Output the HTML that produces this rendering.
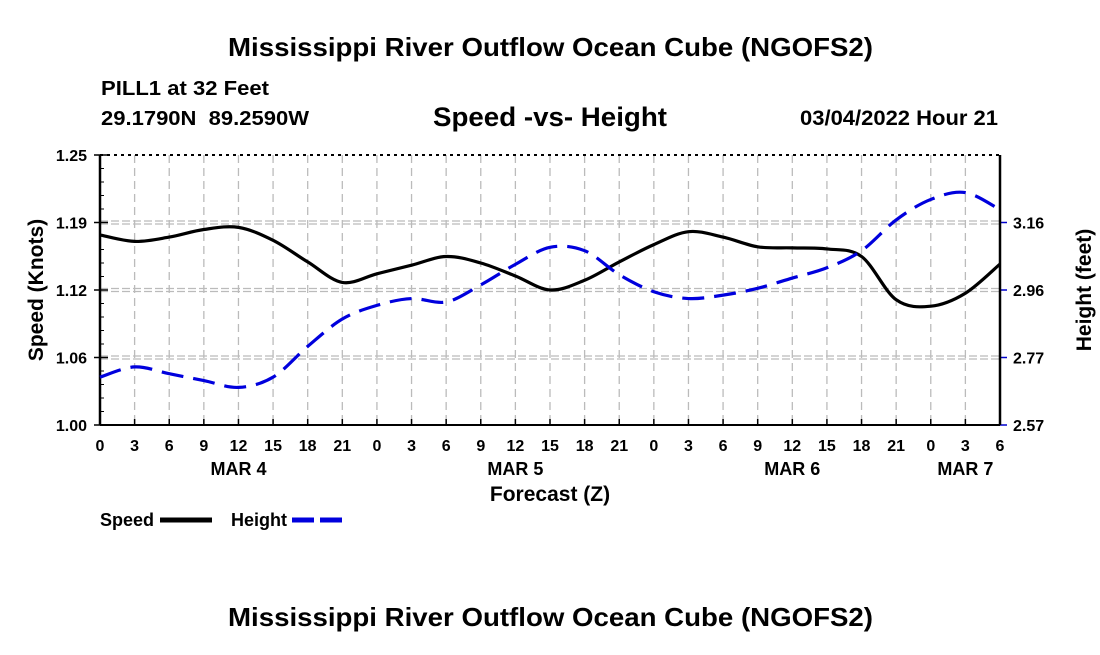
<!DOCTYPE html>
<html><head><meta charset="utf-8"><style>
body{margin:0;background:#fff;width:1100px;height:650px;overflow:hidden}
svg text{font-family:"Liberation Sans",sans-serif;font-weight:bold;fill:#000;white-space:pre}
</style></head><body>
<svg id="chart" width="1100" height="650">
<text x="228" y="56" font-size="26" textLength="645" lengthAdjust="spacingAndGlyphs">Mississippi River Outflow Ocean Cube (NGOFS2)</text>
<text x="101" y="95" font-size="20" textLength="168" lengthAdjust="spacingAndGlyphs">PILL1 at 32 Feet</text>
<text x="101" y="125" font-size="20" textLength="208" lengthAdjust="spacingAndGlyphs">29.1790N  89.2590W</text>
<text x="433" y="126" font-size="27" textLength="234" lengthAdjust="spacingAndGlyphs">Speed -vs- Height</text>
<text x="800" y="125" font-size="21" textLength="198" lengthAdjust="spacingAndGlyphs">03/04/2022 Hour 21</text>
<g id="grid"></g><g id="axes"></g><g id="series"></g>
<text transform="translate(43,290) rotate(-90)" text-anchor="middle" font-size="21">Speed (Knots)</text>
<text transform="translate(1091,290) rotate(-90)" text-anchor="middle" font-size="21">Height (feet)</text>
<text x="550" y="501" text-anchor="middle" font-size="21">Forecast (Z)</text>
<text x="100" y="526" font-size="18">Speed</text>
<line x1="160" y1="520" x2="212" y2="520" stroke="#000" stroke-width="5"/>
<text x="231" y="526" font-size="18">Height</text>
<line x1="292" y1="520" x2="342" y2="520" stroke="#0000dd" stroke-width="5" stroke-dasharray="22,6"/>
<text x="228" y="626" font-size="26" textLength="645" lengthAdjust="spacingAndGlyphs">Mississippi River Outflow Ocean Cube (NGOFS2)</text>
</svg>
<script>
const hours=[0,3,6,9,12,15,18,21,24,27,30,33,36,39,42,45,48,51,54,57,60,63,66,69,72,75,78];
const speed=[1.176,1.170,1.174,1.181,1.183,1.171,1.151,1.132,1.140,1.148,1.156,1.150,1.138,1.125,1.134,1.151,1.167,1.179,1.174,1.165,1.164,1.163,1.156,1.116,1.110,1.122,1.149];
const height=[2.71,2.74,2.72,2.70,2.68,2.71,2.80,2.88,2.92,2.94,2.93,2.98,3.04,3.09,3.08,3.01,2.96,2.94,2.95,2.97,3.00,3.03,3.08,3.17,3.23,3.25,3.20];
const speedTicks=["1.00","1.06","1.12","1.19","1.25"];
const heightTicks=["2.57","2.77","2.96","3.16"];
const xTickLabels=["0","3","6","9","12","15","18","21","0","3","6","9","12","15","18","21","0","3","6","9","12","15","18","21","0","3","6"];
const dayLabels=["MAR 4","MAR 5","MAR 6","MAR 7"];
const dayHours=[12,36,60,75];
const L=100,R=1000,T=155,B=425;
const NS="http://www.w3.org/2000/svg";
const xS=h=>L+h*(R-L)/78;
const yS=v=>B-(v-1.0)*(B-T)/0.25;
const yH=v=>B-(v-2.57)*(B-T)/0.79;
function mk(tag,at,parent){const e=document.createElementNS(NS,tag);for(const k in at)e.setAttribute(k,at[k]);document.getElementById(parent).appendChild(e);return e;}
for(let i=0;i<hours.length;i++){const x=xS(hours[i]);
 const g=mk('line',{x1:x,y1:T,x2:x,y2:B,stroke:'#bbb','stroke-width':1.3,'stroke-dasharray':'8,5'},'grid');
 
 
 const t=mk('line',{x1:x,y1:B,x2:x,y2:B-6,stroke:'#000','stroke-width':1.5},'axes');
 
 
 const tl=mk('text',{x:x,y:451,'text-anchor':'middle','font-size':16},'axes');tl.textContent=xTickLabels[i];
 
 
}
for(let i=0;i<=4;i++){const y=B-i*(B-T)/4;
 if(i>0&&i<4){for(const d of [-1.5,1.5]){const g=mk('line',{x1:L,y1:y+d,x2:R,y2:y+d,stroke:'#bbb','stroke-width':1.3,'stroke-dasharray':'8,3'},'grid');
 
 }}
 const tl=mk('text',{x:L-13,y:y+6,'text-anchor':'end','font-size':16},'axes');tl.textContent=speedTicks[i];
 
 
 mk('line',{x1:L-6,y1:y,x2:L+8,y2:y,stroke:'#000','stroke-width':1.5},'axes');
}
for(let i=1;i<20;i++){const y=B-i*(B-T)/20;mk('line',{x1:L,y1:y,x2:L+4,y2:y,stroke:'#000','stroke-width':1},'axes');}
for(let i=0;i<heightTicks.length;i++){const y=yH(2.57+i*0.1975);
 mk('line',{x1:R,y1:y,x2:R+7,y2:y,stroke:'#0000cc','stroke-width':1.5},'axes');
 const tl=mk('text',{x:R+13,y:y+6,'font-size':16},'axes');tl.textContent=heightTicks[i];
 
 
}
for(let i=0;i<dayLabels.length;i++){const t=mk('text',{x:xS(dayHours[i]),y:475,'text-anchor':'middle','font-size':18},'axes');t.textContent=dayLabels[i];
 
 }
mk('line',{x1:L,y1:T,x2:L,y2:B,stroke:'#000','stroke-width':2.5},'axes');
mk('line',{x1:R,y1:T,x2:R,y2:B,stroke:'#000','stroke-width':2.5},'axes');
mk('line',{x1:L,y1:B,x2:R,y2:B,stroke:'#000','stroke-width':2},'axes');
mk('line',{x1:L,y1:T,x2:R,y2:T,stroke:'#000','stroke-width':2,'stroke-dasharray':'3,4'},'axes');
function path(vals,ys){const p=hours.map((h,i)=>[xS(h),ys(vals[i])]);let d='M'+p[0][0]+','+p[0][1];
 for(let i=0;i<p.length-1;i++){const p0=p[Math.max(0,i-1)],p1=p[i],p2=p[i+1],p3=p[Math.min(p.length-1,i+2)];
 d+=' C'+(p1[0]+(p2[0]-p0[0])/6)+','+(p1[1]+(p2[1]-p0[1])/6)+' '+(p2[0]-(p3[0]-p1[0])/6)+','+(p2[1]-(p3[1]-p1[1])/6)+' '+p2[0]+','+p2[1];}
 return d;}
const s=mk('path',{d:path(speed,yS),fill:'none',stroke:'#000','stroke-width':3.2},'series');


const hh=mk('path',{d:path(height,yH),fill:'none',stroke:'#0000dd','stroke-width':3.2,'stroke-dasharray':'22,10'},'series');


</script>
</body></html>
